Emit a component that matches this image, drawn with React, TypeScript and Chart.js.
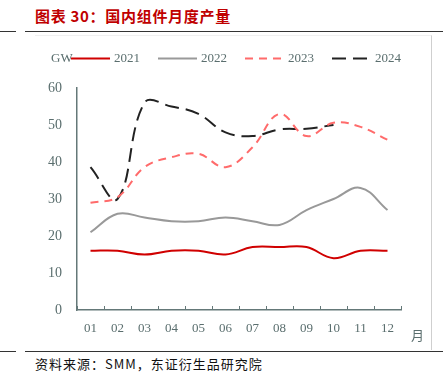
import React, { useEffect, useRef } from "react";
import { Chart, registerables } from "chart.js";

Chart.register(...registerables);

const months = ["01", "02", "03", "04", "05", "06", "07", "08", "09", "10", "11", "12"];
const yTicks = [0, 10, 20, 30, 40, 50, 60];
const s2021 = [16, 16, 15, 16, 16, 15, 17, 17, 17, 14, 16, 16];
const s2022 = [21, 26, 25, 24, 24, 25, 24, 23, 27, 30, 33, 27];
const s2023 = [29, 30.5, 38.6, 41.3, 42.2, 38.6, 44, 53, 47, 50.6, 49.5, 46];
const s2024 = [38.6, 30, 56, 55, 53, 48, 47, 48.8, 49, 50, null, null];

const axisColor = "#647878";
const textColor = "#5a6e6e";
const serif = '"Liberation Serif", "Times New Roman", serif';

const overlay = {
  id: "overlay",
  afterDraw(chart: any) {
    const ctx = chart.ctx;
    const { bottom } = chart.chartArea;
    const xs = chart.scales.x;
    ctx.save();
    ctx.strokeStyle = axisColor;
    ctx.lineWidth = 1;
    for (let i = 0; i <= months.length; i++) {
      const px = Math.round(xs.getPixelForValue(i - 0.5)) + 0.5;
      ctx.beginPath();
      ctx.moveTo(px, bottom);
      ctx.lineTo(px, bottom - 4);
      ctx.stroke();
    }
    ctx.font = "13px " + serif;
    ctx.fillStyle = textColor;
    ctx.textBaseline = "middle";
    ctx.textAlign = "left";
    ctx.fillText("GW", 16, 26);
    chart.data.datasets.forEach((ds: any, i: number) => {
      const lx = 36 + i * 87;
      const ly = 25.5;
      ctx.save();
      ctx.strokeStyle = ds.borderColor;
      ctx.lineWidth = ds.borderWidth;
      ctx.setLineDash(ds.borderDash || []);
      ctx.beginPath();
      ctx.moveTo(lx, ly);
      ctx.lineTo(lx + 39, ly);
      ctx.stroke();
      ctx.restore();
      ctx.fillStyle = textColor;
      ctx.fillText(ds.label, lx + 43, 26);
    });
    ctx.font = '13px "Noto Sans CJK SC"';
    ctx.fillText("月", 376, 302);
    ctx.restore();
  },
};

function App() {
  const ref = useRef<HTMLCanvasElement | null>(null);
  useEffect(() => {
    document.body.style.margin = "0";
    const chart = new Chart(ref.current as HTMLCanvasElement, {
      type: "line",
      data: {
        labels: months,
        datasets: [
          { label: "2021", data: s2021, borderColor: "#d00000", borderWidth: 2, borderDash: [] },
          { label: "2022", data: s2022, borderColor: "#999999", borderWidth: 2, borderDash: [] },
          { label: "2023", data: s2023, borderColor: "#ff6b6b", borderWidth: 2, borderDash: [8, 6] },
          { label: "2024", data: s2024, borderColor: "#222222", borderWidth: 2, borderDash: [14, 7] },
        ] as any,
      },
      options: {
        animation: false,
        responsive: false,
        maintainAspectRatio: false,
        layout: { padding: { left: 0, right: 31, top: 55, bottom: 0 } },
        elements: { point: { radius: 0 }, line: { tension: 0.4 } },
        plugins: { legend: { display: false }, tooltip: { enabled: false } },
        scales: {
          x: {
            offset: true,
            grid: { display: false, drawTicks: false },
            border: { display: true, color: axisColor, width: 1.5 },
            ticks: { color: textColor, font: { family: serif, size: 13 }, padding: 11, maxRotation: 0 },
            afterFit: (s: any) => { s.height = 40; },
          },
          y: {
            min: 0,
            max: 60,
            grid: { display: false, drawTicks: false },
            border: { display: true, color: axisColor, width: 1.5 },
            afterBuildTicks: (s: any) => { s.ticks = yTicks.map((v) => ({ value: v })); },
            ticks: { color: textColor, font: { family: serif, size: 14 }, padding: 15 },
            afterFit: (s: any) => { s.width = 42; },
          },
        },
      },
      plugins: [overlay],
    });
    return () => chart.destroy();
  }, []);

  const rule = (top: number) => (
    <>
      <div style={{ position: "absolute", left: 0, top, width: 16, height: 1, background: "#333" }} />
      <div style={{ position: "absolute", left: 25, top, width: 418, height: 1, background: "#333" }} />
    </>
  );

  return (
    <div style={{ position: "relative", width: 443, height: 390, background: "#fff", overflow: "hidden" }}>
      <div
        style={{
          position: "absolute",
          left: 35,
          top: 6,
          color: "#c00000",
          fontFamily: '"Noto Sans CJK SC", sans-serif',
          fontWeight: 700,
          fontSize: 15,
          letterSpacing: 0.7,
          lineHeight: "20px",
          whiteSpace: "nowrap",
        }}
      >
        图表 30：国内组件月度产量
      </div>
      {rule(31)}
      <div style={{ position: "absolute", left: 35, top: 35, width: 397, height: 315, borderTop: "1px solid #f0f0f0", borderRight: "1px solid #cfcfcf", boxSizing: "border-box" }} />
      <canvas ref={ref} width={397} height={317} style={{ position: "absolute", left: 35, top: 33 }} />
      {rule(351)}
      <div
        style={{
          position: "absolute",
          left: 35,
          top: 354,
          color: "#111",
          fontFamily: '"Noto Sans CJK SC", sans-serif',
          fontSize: 13,
          letterSpacing: 1,
          lineHeight: "20px",
          whiteSpace: "nowrap",
        }}
      >
        资料来源：SMM，东证衍生品研究院
      </div>
    </div>
  );
}

export default App;
